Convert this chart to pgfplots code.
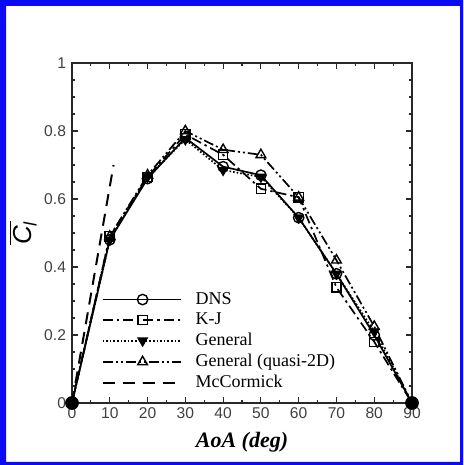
\documentclass[border=0pt]{standalone}
\usepackage{fontspec}
\setmainfont{Liberation Serif}
\newfontfamily\sansf{Liberation Sans}
\usepackage{pgfplots}
\pgfplotsset{compat=1.18}
\definecolor{frameblue}{RGB}{10,10,245}
\definecolor{axgray}{RGB}{40,40,40}
\begin{document}
\begin{tikzpicture}
\useasboundingbox (0pt,0pt) rectangle (231.5pt,232.5pt);
\fill[frameblue,even odd rule] (0pt,0pt) rectangle (231.5pt,232.5pt) (3pt,1.5pt) rectangle (230pt,229.5pt);
\begin{axis}[
  at={(36pt,31pt)}, anchor=south west,
  scale only axis, width=170pt, height=170pt,
  xmin=0, xmax=90, ymin=0, ymax=1,
  xtick={0,10,...,90}, ytick={0,0.2,0.4,0.6,0.8,1},
  minor x tick num=1, minor y tick num=3,
  tick align=inside,
  major tick length=3pt, minor tick length=1.6pt,
  axis line style={axgray, line width=0.8pt},
  every tick/.style={axgray, line width=0.6pt},
  tick label style={font=\sansf\fontsize{7.8}{9}\selectfont, text=black!75},
  /pgf/number format/assume math mode=true,
  yticklabel style={/pgf/number format/fixed, xshift=0.5pt},
  xticklabel style={yshift=1pt},
  xlabel={\bfseries\itshape AoA (deg)},
  xlabel style={font=\fontsize{11}{12}\selectfont, yshift=0.5pt},
  ylabel={$\overline{\mbox{\sansf\itshape C\textsubscript{l}}}$},
  ylabel style={font=\sansf\fontsize{13}{14}\selectfont, yshift=-3pt},
  legend style={at={(rel axis cs:0.08,0.345)}, anchor=north west, draw=none, fill=none,
    font=\fontsize{9}{10}\selectfont, row sep=-1.2pt, inner sep=1pt},
  legend cell align=left,
  legend image code/.code={\draw[mark repeat=2,mark phase=2] plot coordinates {(0pt,0pt) (20pt,0pt) (39pt,0pt)}; \path (44pt,0pt);},
  every axis plot/.append style={line width=0.85pt, black},
  clip=false,
]
\addplot[solid, mark=o, mark size=2.6pt, mark options={solid, line width=0.7pt}] coordinates {
(0,0) (10,0.48) (20,0.66) (30,0.78) (40,0.695) (50,0.67) (60,0.545) (70,0.38) (80,0.20) (90,0)};
\addlegendentry{DNS}
\addplot[dash pattern=on 5pt off 2pt on 1.2pt off 2pt, mark=square, mark size=2.3pt, mark options={solid, line width=0.7pt}] coordinates {
(0,0) (10,0.49) (20,0.665) (30,0.79) (40,0.73) (50,0.63) (60,0.605) (70,0.34) (80,0.18) (90,0)};
\addlegendentry{K-J}
\addplot[dash pattern=on 0.8pt off 1pt, mark=triangle*, mark size=2.4pt, mark options={solid, rotate=180}] coordinates {
(0,0) (10,0.48) (20,0.665) (30,0.775) (40,0.685) (50,0.665) (60,0.545) (70,0.38) (80,0.21) (90,0)};
\addlegendentry{General}
\addplot[dash pattern=on 5pt off 1.5pt on 1pt off 1.5pt on 1pt off 1.5pt, mark=triangle, mark size=2.8pt, mark options={solid, line width=0.7pt}] coordinates {
(0,0) (10,0.49) (20,0.67) (30,0.80) (40,0.745) (50,0.73) (60,0.605) (70,0.42) (80,0.225) (90,0)};
\addlegendentry{General (quasi-2D)}
\addplot[dash pattern=on 6pt off 4pt, line width=1pt] coordinates {(0,0) (11,0.70)};
\addlegendentry{McCormick}
\addplot[only marks, mark=*, mark size=3pt, forget plot] coordinates {(0,0) (90,0)};
\end{axis}
\end{tikzpicture}
\end{document}
